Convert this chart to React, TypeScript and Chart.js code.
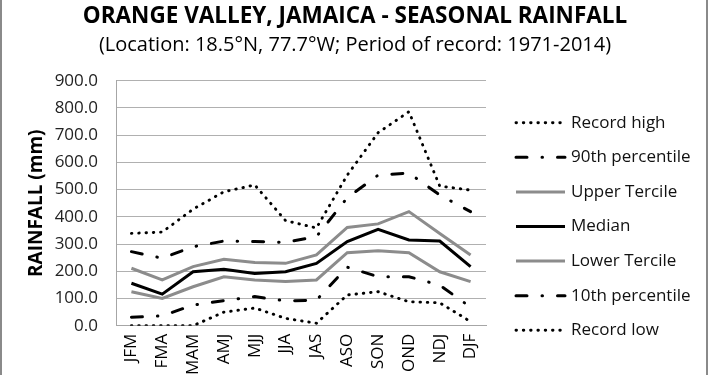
import React, { useEffect, useRef } from "react";
import { Chart, registerables } from "chart.js";

Chart.register(...registerables);

const categories = ["JFM", "FMA", "MAM", "AMJ", "MJJ", "JJA", "JAS", "ASO", "SON", "OND", "NDJ", "DJF"];
const recordHigh = [339, 344, 428, 492, 517, 386, 359, 553, 709, 786, 513, 498];
const p90 = [272, 248, 290, 311, 309, 306, 327, 470, 553, 561, 480, 419];
const upperTercile = [211, 168, 217, 244, 232, 229, 260, 361, 374, 419, 339, 260];
const median = [156, 116, 198, 207, 192, 198, 229, 309, 354, 315, 311, 217];
const lowerTercile = [125, 100, 143, 180, 168, 162, 168, 268, 275, 268, 198, 162];
const p10 = [31, 36, 76, 92, 107, 91, 94, 215, 180, 180, 149, 68];
const recordLow = [0, 0, 0, 50, 65, 27, 9, 113, 125, 88, 84, 15];
const seriesNames = ["Record high", "90th percentile", "Upper Tercile", "Median", "Lower Tercile", "10th percentile", "Record low"];
const titleText = "ORANGE VALLEY, JAMAICA - SEASONAL RAINFALL";
const subtitleText = "(Location: 18.5°N, 77.7°W; Period of record: 1971-2014)";

const FONT = "'Open Sans', 'Noto Sans', sans-serif";
const GRAY = "#8c8c8c";
const DOT = [0.5, 6.8];
const DASHDOT = [11, 15, 0.5, 15];

const styles = [
  { color: "#000", width: 2.9, dash: DOT, cap: "round" },
  { color: "#000", width: 3, dash: DASHDOT, cap: "round" },
  { color: GRAY, width: 3, dash: [], cap: "butt" },
  { color: "#000", width: 3, dash: [], cap: "butt" },
  { color: GRAY, width: 3, dash: [], cap: "butt" },
  { color: "#000", width: 3, dash: DASHDOT, cap: "round" },
  { color: "#000", width: 2.9, dash: DOT, cap: "round" },
];

const decorPlugin = {
  id: "decor",
  afterDraw(chart: any) {
    const ctx = chart.ctx;
    ctx.save();
    ctx.fillStyle = "#000";
    ctx.textAlign = "center";
    ctx.textBaseline = "middle";
    ctx.font = `bold 22.5px ${FONT}`;
    ctx.fillText(titleText, 355, 17);
    ctx.font = `20px ${FONT}`;
    ctx.fillText(subtitleText, 355, 45);
    chart.data.datasets.forEach((ds: any, i: number) => {
      const y = 122.7 + i * 34.6;
      ctx.beginPath();
      ctx.strokeStyle = ds.borderColor;
      ctx.lineWidth = ds.borderWidth;
      ctx.setLineDash(ds.borderDash || []);
      ctx.lineCap = ds.borderCapStyle;
      ctx.moveTo(516, y);
      ctx.lineTo(565, y);
      ctx.stroke();
      ctx.setLineDash([]);
      ctx.fillStyle = "#111";
      ctx.font = `17px ${FONT}`;
      ctx.textAlign = "left";
      ctx.textBaseline = "middle";
      ctx.fillText(ds.label, 571, y);
    });
    ctx.strokeStyle = "#8a8a8a";
    ctx.lineWidth = 2;
    ctx.lineCap = "butt";
    ctx.beginPath();
    ctx.moveTo(1, 0);
    ctx.lineTo(1, 375);
    ctx.moveTo(707, 0);
    ctx.lineTo(707, 375);
    ctx.stroke();
    ctx.restore();
  },
};

export default function App() {
  const ref = useRef<HTMLCanvasElement | null>(null);
  useEffect(() => {
    if (!ref.current) return;
    const seriesData = [recordHigh, p90, upperTercile, median, lowerTercile, p10, recordLow];
    const chart = new Chart(ref.current, {
      type: "line",
      data: {
        labels: categories,
        datasets: seriesData.map((d, i) => ({
          label: seriesNames[i],
          data: d,
          borderColor: styles[i].color,
          backgroundColor: styles[i].color,
          borderWidth: styles[i].width,
          borderDash: styles[i].dash,
          borderCapStyle: styles[i].cap as any,
          pointRadius: 0,
          tension: 0,
          fill: false,
        })),
      },
      options: {
        responsive: false,
        animation: false,
        layout: { padding: { top: 80.7, left: 0, right: 224, bottom: 0 } },
        plugins: {
          legend: { display: false },
          tooltip: { enabled: false },
          title: { display: false },
        },
        scales: {
          x: {
            offset: true,
            grid: { display: false, drawTicks: false },
            border: { display: true, color: "#a6a6a6", width: 1 },
            ticks: {
              minRotation: 90,
              maxRotation: 90,
              padding: 8,
              color: "#000",
              font: { family: FONT, size: 17 },
            },
            afterFit(scale: any) {
              scale.height = 49.3;
            },
          },
          y: {
            min: 0,
            max: 900,
            grid: { color: "#b0b0b0", lineWidth: 1, drawTicks: false },
            border: { display: true, color: "#a6a6a6", width: 1 },
            ticks: {
              stepSize: 100,
              padding: 18,
              color: "#222",
              font: { family: FONT, size: 17 },
              callback: (v: any) => Number(v).toFixed(1),
            },
            title: {
              display: true,
              text: "RAINFALL (mm)",
              color: "#000",
              font: { family: FONT, size: 19, weight: "bold" },
              padding: { top: 25, bottom: 0 },
            },
            afterFit(scale: any) {
              scale.width = 116;
            },
          },
        },
      },
      plugins: [decorPlugin],
    });
    return () => chart.destroy();
  }, []);
  return (
    <div style={{ position: "fixed", left: 0, top: 0, width: 710, height: 375, background: "#fff" }}>
      <canvas ref={ref} width={710} height={375} style={{ display: "block", width: 710, height: 375 }} />
    </div>
  );
}
